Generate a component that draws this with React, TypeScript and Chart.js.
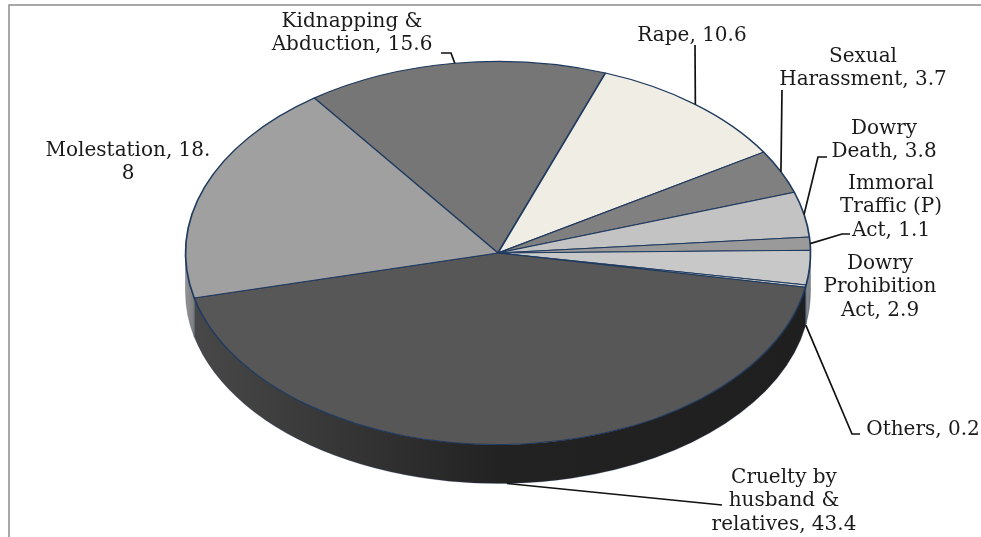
import React, { useEffect, useRef } from "react";
import { Chart, registerables } from "chart.js";

Chart.register(...registerables);

// Share of crimes against women, by head of crime (per cent).
const categories = [
  "Kidnapping & Abduction",
  "Rape",
  "Sexual Harassment",
  "Dowry Death",
  "Immoral Traffic (P) Act",
  "Dowry Prohibition Act",
  "Others",
  "Cruelty by husband & relatives",
  "Molestation",
];
const shares = [15.6, 10.6, 3.7, 3.8, 1.1, 2.9, 0.2, 43.4, 18.8];

const topColours = ["#767676", "#F0EEE4", "#808080", "#C3C3C3", "#9A9A9A", "#C8C8C8", "#D0D0D0", "#575757", "#A0A0A0"];
const wallColours: string[][] = [
  ["#555555", "#555555"],
  ["#aaaaaa", "#aaaaaa"],
  ["#5a5a5a", "#5a5a5a"],
  ["#8a8a8a", "#8a8a8a"],
  ["#6c6c6c", "#6c6c6c"],
  ["#7c7f84", "#8a8c90"],
  ["#6c6f74", "#5c5c5c"],
  ["#1f1f1f", "#222222", "#484848"],
  ["#7e7e7e", "#949494"],
];

// How the disc is tilted and how thick it is.
const RADIUS = 312.5;
const SQUASH = 0.613;
const DEPTH = 39;

// Wrapped label text, centred on cx, first baseline at y; a leader runs through the listed bends.
const LINE_GAP = 23.3;
const labelLayout = [
  { lines: ["Kidnapping &", "Abduction, 15.6"], cx: 352, y: 27, bends: [[451, 53], [441, 53]] },
  { lines: ["Rape, 10.6"], cx: 692, y: 41, bends: [[695, 45]] },
  { lines: ["Sexual", "Harassment, 3.7"], cx: 863, y: 62, bends: [[782, 90]] },
  { lines: ["Dowry", "Death, 3.8"], cx: 884, y: 134, bends: [[818, 157], [827, 157]] },
  { lines: ["Immoral", "Traffic (P)", "Act, 1.1"], cx: 891, y: 189, bends: [[842, 234], [850, 234]] },
  { lines: ["Dowry", "Prohibition", "Act, 2.9"], cx: 880, y: 269, bends: [] },
  { lines: ["Others, 0.2"], cx: 923, y: 435, bends: [[852, 434], [860, 434]], onBase: true },
  { lines: ["Cruelty by", "husband &", "relatives, 43.4"], cx: 784, y: 483, bends: [[722, 505]], onBase: true },
  { lines: ["Molestation, 18.", "8"], cx: 128, y: 156, bends: [] },
];

const discPlugin = {
  id: "tiltedDisc",
  beforeDatasetDraw(chart: any) {
    const { ctx } = chart;
    const arcs = chart.getDatasetMeta(0).data;
    const { x: cx, y: cy, outerRadius: r } = arcs[0];
    const ry = r * SQUASH;

    // Side wall: only the part of each slice that faces the viewer.
    arcs.forEach((arc: any, i: number) => {
      for (const turn of [-2 * Math.PI, 0, 2 * Math.PI]) {
        const a = Math.max(arc.startAngle, turn);
        const b = Math.min(arc.endAngle, turn + Math.PI);
        if (b <= a) continue;
        const xa = cx + r * Math.cos(a);
        const xb = cx + r * Math.cos(b);
        const grad = ctx.createLinearGradient(Math.max(xa, xb), 0, Math.min(xa, xb) - 0.01, 0);
        wallColours[i].forEach((c, k, all) => grad.addColorStop(k / (all.length - 1), c));
        ctx.beginPath();
        ctx.ellipse(cx, cy, r, ry, 0, a, b);
        ctx.ellipse(cx, cy + DEPTH, r, ry, 0, b, a, true);
        ctx.closePath();
        ctx.fillStyle = grad;
        ctx.fill();
        ctx.strokeStyle = "rgba(31,56,100,0.4)";
        ctx.lineWidth = 0.7;
        ctx.stroke();
      }
    });

    // The slices themselves are drawn by the pie controller, flattened about the centre.
    ctx.save();
    ctx.translate(cx, cy);
    ctx.scale(1, SQUASH);
    ctx.translate(-cx, -cy);
  },
  afterDatasetDraw(chart: any) {
    chart.ctx.restore();
  },
  afterDraw(chart: any) {
    const { ctx } = chart;
    const arcs = chart.getDatasetMeta(0).data;

    // Chart frame; it has no right or bottom edge inside the canvas.
    ctx.save();
    ctx.strokeStyle = "#8a8a8a";
    ctx.lineWidth = 1.5;
    ctx.beginPath();
    ctx.moveTo(9, 537);
    ctx.lineTo(9, 5);
    ctx.lineTo(981, 5);
    ctx.stroke();

    ctx.fillStyle = "#1a1a1a";
    ctx.textAlign = "center";
    ctx.textBaseline = "alphabetic";
    ctx.font = '20px "DejaVu Serif"';
    labelLayout.forEach((item: any, i: number) => {
      const arc = arcs[i];
      const mid = (arc.startAngle + arc.endAngle) / 2;
      if (item.bends.length) {
        const sx = arc.x + arc.outerRadius * Math.cos(mid);
        const sy = arc.y + arc.outerRadius * SQUASH * Math.sin(mid) + (item.onBase ? DEPTH : 0);
        ctx.beginPath();
        ctx.moveTo(sx, sy);
        item.bends.forEach(([bx, by]: number[]) => ctx.lineTo(bx, by));
        ctx.strokeStyle = "#111111";
        ctx.lineWidth = 1.7;
        ctx.stroke();
      }
      item.lines.forEach((line: string, k: number) => {
        ctx.fillText(line, item.cx, item.y + k * LINE_GAP);
      });
    });
    ctx.restore();
  },
};

export default function App() {
  const canvasRef = useRef<HTMLCanvasElement>(null);

  useEffect(() => {
    const chart = new Chart(canvasRef.current!, {
      type: "pie",
      data: {
        labels: categories,
        datasets: [
          {
            data: shares,
            backgroundColor: topColours,
            borderColor: "#1F3A5F",
            borderWidth: 1.7,
            clip: false,
          } as any,
        ],
      },
      options: {
        responsive: false,
        animation: false,
        rotation: -36,
        radius: RADIUS,
        layout: { padding: { left: 15, right: 0, top: 0, bottom: 31 } },
        plugins: { legend: { display: false }, tooltip: { enabled: false } },
      } as any,
      plugins: [discPlugin],
    });
    return () => chart.destroy();
  }, []);

  return (
    <div style={{ position: "fixed", left: 0, top: 0, width: 981, height: 537, background: "#fff" }}>
      <canvas ref={canvasRef} width={981} height={537} style={{ display: "block" }} />
    </div>
  );
}
